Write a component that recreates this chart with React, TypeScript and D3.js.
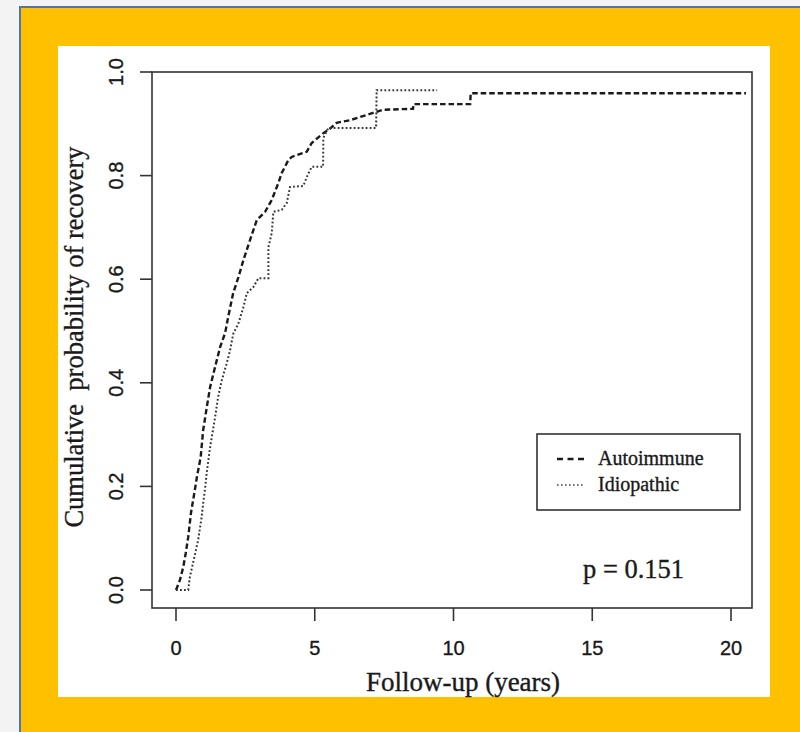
import React from "react";
import * as d3 from "d3";

// ---- data ----
const autoTimes = [0, 0.03, 0.14, 0.26, 0.35, 0.44, 0.54, 0.66, 0.76, 0.89, 0.98, 1.11, 1.23, 1.41, 1.59, 1.77, 1.88, 2.06, 2.25, 2.43, 2.67, 2.91, 3.21, 3.45, 3.69, 3.81, 4.05, 4.17, 4.71, 4.89, 5.31, 5.49, 5.79, 6.27, 7.1, 7.46, 8.54, 8.56, 10.6, 10.62, 20.54];
const autoProb = [0, 0.004, 0.019, 0.044, 0.071, 0.102, 0.149, 0.187, 0.22, 0.257, 0.309, 0.353, 0.392, 0.431, 0.469, 0.496, 0.527, 0.573, 0.604, 0.637, 0.676, 0.714, 0.73, 0.753, 0.786, 0.805, 0.83, 0.836, 0.846, 0.863, 0.882, 0.888, 0.902, 0.907, 0.921, 0.927, 0.929, 0.938, 0.938, 0.959, 0.959];

const idioTimes = [0, 0.44, 0.5, 0.68, 0.8, 0.92, 0.98, 1.05, 1.11, 1.23, 1.41, 1.52, 1.65, 1.83, 1.95, 2.06, 2.25, 2.43, 2.55, 2.79, 2.97, 3.33, 3.33, 3.45, 3.51, 3.81, 3.99, 4.11, 4.59, 4.71, 4.89, 5.3, 5.31, 5.49, 7.21, 7.23, 9.41];
const idioProb = [0, 0, 0.025, 0.068, 0.097, 0.139, 0.168, 0.197, 0.228, 0.276, 0.334, 0.373, 0.405, 0.438, 0.463, 0.494, 0.515, 0.546, 0.573, 0.585, 0.602, 0.602, 0.662, 0.689, 0.73, 0.734, 0.747, 0.778, 0.78, 0.797, 0.817, 0.817, 0.873, 0.892, 0.892, 0.965, 0.965];

const xTicks = [0, 5, 10, 15, 20];
const yTicks = [0, 0.2, 0.4, 0.6, 0.8, 1.0];
const seriesNames = ["Autoimmune", "Idiopathic"];
const pLabel = "p = 0.151";
const xTitle = "Follow-up (years)";
const yTitle = "Cumulative  probability of recovery";

export default function App() {
  const W = 800, H = 732;
  const box = { left: 152, right: 752, top: 72, bottom: 608 };
  const x = d3.scaleLinear().domain([0, 20]).range([176, 731]);
  const y = d3.scaleLinear().domain([0, 1]).range([590, 72]);

  const line = d3.line<[number, number]>().x(d => x(d[0])).y(d => y(d[1]));
  const autoPath = line(autoTimes.map((t, i) => [t, autoProb[i]] as [number, number])) || "";
  const idioPath = line(idioTimes.map((t, i) => [t, idioProb[i]] as [number, number])) || "";

  const serif = "'Liberation Serif', 'Times New Roman', serif";
  const sans = "'Liberation Sans', Arial, sans-serif";
  const ink = "#1a1a1a";
  const halo = { stroke: ink, strokeWidth: 0.35 };

  return (
    <svg width={W} height={H} style={{ position: "absolute", left: 0, top: 0 }}>
      <rect x={0} y={0} width={W} height={H} fill="#f3f3f3" />
      <rect x={20} y={7} width={W + 10} height={H + 10} fill="#FFC000" stroke="#4d78a6" strokeWidth={2} />
      <rect x={58} y={46} width={712} height={651} fill="#ffffff" />

      {/* plot box */}
      <rect x={box.left} y={box.top} width={box.right - box.left} height={box.bottom - box.top} fill="none" stroke="#333" strokeWidth={1.6} />

      {/* y axis */}
      {yTicks.map(t => (
        <g key={"y" + t}>
          <line x1={box.left - 12} x2={box.left} y1={y(t)} y2={y(t)} stroke="#333" strokeWidth={1.6} />
          <text transform={`translate(${123},${y(t)}) rotate(-90)`} textAnchor="middle" fontFamily={sans} fontSize={20} fill={ink} {...halo}>
            {t.toFixed(1)}
          </text>
        </g>
      ))}

      {/* x axis */}
      {xTicks.map(t => (
        <g key={"x" + t}>
          <line x1={x(t)} x2={x(t)} y1={box.bottom} y2={box.bottom + 13} stroke="#333" strokeWidth={1.6} />
          <text x={x(t)} y={655} textAnchor="middle" fontFamily={sans} fontSize={20} fill={ink} {...halo}>
            {t}
          </text>
        </g>
      ))}

      <text x={463} y={691} textAnchor="middle" fontFamily={serif} fontSize={27} fill={ink} {...halo}>{xTitle}</text>
      <text transform={`translate(${83},${337}) rotate(-90)`} textAnchor="middle" fontFamily={serif} fontSize={26.5} fill={ink} style={{ whiteSpace: "pre" }} {...halo}>{yTitle}</text>

      {/* curves */}
      <path d={autoPath} fill="none" stroke="#1a1a1a" strokeWidth={2.4} strokeDasharray="5.5,3" />
      <path d={idioPath} fill="none" stroke="#333" strokeWidth={2} strokeDasharray="1.8,2.2" />

      {/* legend */}
      <rect x={537} y={434} width={203} height={76} fill="none" stroke="#333" strokeWidth={1.6} />
      <line x1={557} x2={584} y1={459} y2={459} stroke="#1a1a1a" strokeWidth={2.4} strokeDasharray="6,4.5" />
      <line x1={557} x2={584} y1={485} y2={485} stroke="#444" strokeWidth={1.6} strokeDasharray="1.6,2.4" />
      <text x={598} y={465} fontFamily={serif} fontSize={20} fill={ink} {...halo}>{seriesNames[0]}</text>
      <text x={598} y={491} fontFamily={serif} fontSize={20} fill={ink} {...halo}>{seriesNames[1]}</text>

      <text x={583} y={578} fontFamily={serif} fontSize={26.5} fill={ink} style={{ whiteSpace: "pre" }} {...halo}>{pLabel}</text>
    </svg>
  );
}
